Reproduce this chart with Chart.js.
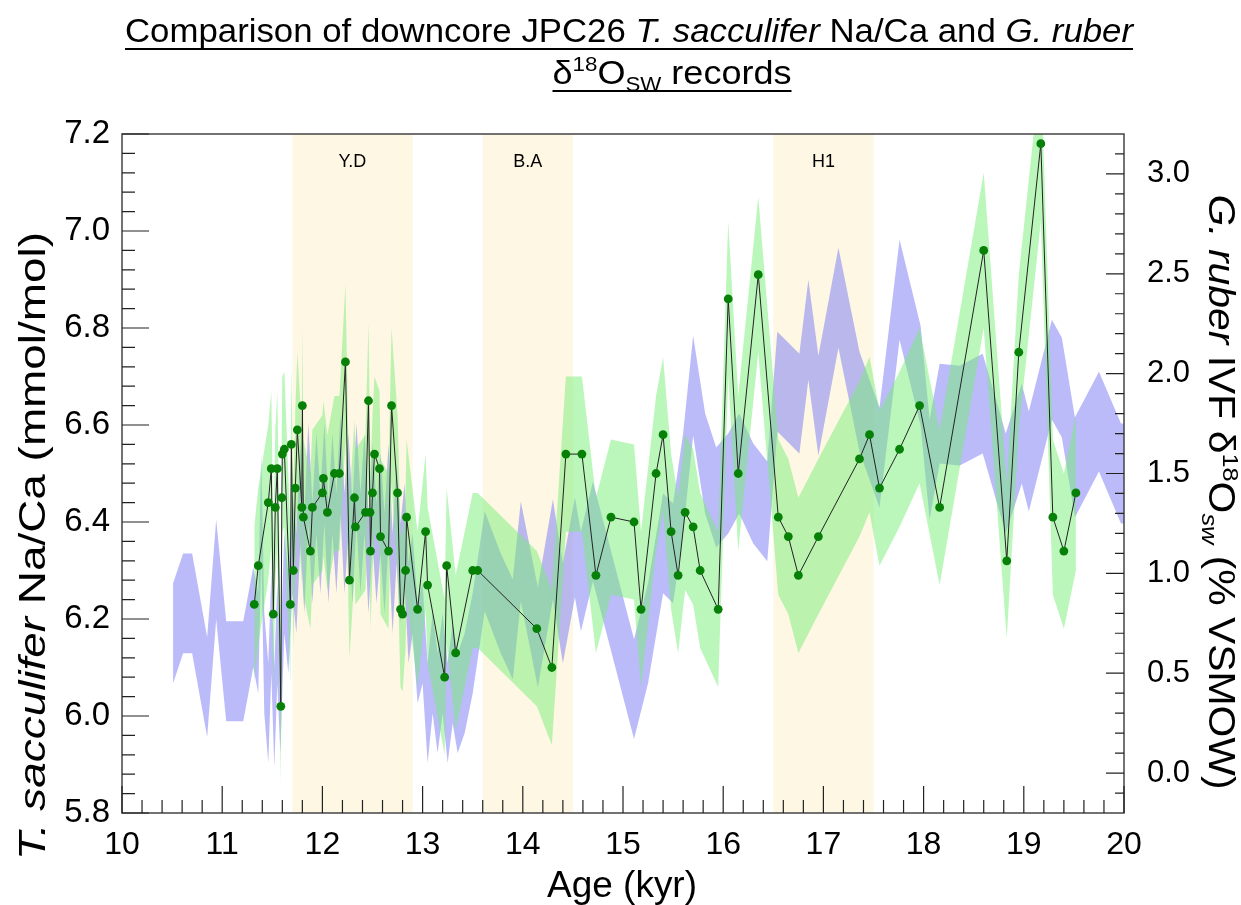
<!DOCTYPE html>
<html>
<head>
<meta charset="utf-8">
<script src="https://cdn.jsdelivr.net/npm/chart.js@4.4.1/dist/chart.umd.min.js"></script>
<style>
  html, body { margin: 0; padding: 0; background: #fff; }
  #wrap { width: 1241px; height: 905px; }
</style>
</head>
<body>
<div id="wrap"><canvas id="chart" width="1241" height="905"></canvas></div>
<script>
// T. sacculifer Na/Ca (left axis)
const naAge = [11.32, 11.36, 11.46, 11.49, 11.51, 11.53, 11.55, 11.585, 11.595, 11.60,
  11.62, 11.68, 11.69, 11.71, 11.73, 11.75, 11.795, 11.80, 11.81, 11.88,
  11.90, 12.00, 12.01, 12.05, 12.12, 12.17, 12.23, 12.27, 12.32, 12.33,
  12.43, 12.46, 12.475, 12.48, 12.50, 12.52, 12.57, 12.58, 12.66, 12.69,
  12.75, 12.78, 12.80, 12.83, 12.84, 12.95, 13.03, 13.05, 13.22, 13.24,
  13.33, 13.50, 13.55, 14.14, 14.29, 14.43, 14.59, 14.73, 14.88, 15.11,
  15.18, 15.33, 15.40, 15.48, 15.55, 15.62, 15.70, 15.77, 15.95, 16.05,
  16.15, 16.35, 16.55, 16.65, 16.75, 16.95, 17.36, 17.46, 17.56, 17.76,
  17.96, 18.16, 18.60, 18.83, 18.95, 19.17, 19.29, 19.40, 19.52];
const naVal = [6.23, 6.31, 6.44, 6.51, 6.21, 6.43, 6.51, 6.02, 6.45, 6.54,
  6.55, 6.23, 6.56, 6.30, 6.47, 6.59, 6.43, 6.64, 6.41, 6.34,
  6.43, 6.46, 6.49, 6.42, 6.50, 6.50, 6.73, 6.28, 6.45, 6.39,
  6.42, 6.65, 6.42, 6.34, 6.46, 6.54, 6.51, 6.37, 6.34, 6.64,
  6.46, 6.22, 6.21, 6.30, 6.41, 6.22, 6.38, 6.27, 6.08, 6.31,
  6.13, 6.30, 6.30, 6.18, 6.10, 6.54, 6.54, 6.29, 6.41, 6.40,
  6.22, 6.50, 6.58, 6.38, 6.29, 6.42, 6.39, 6.30, 6.22, 6.86,
  6.50, 6.91, 6.41, 6.37, 6.29, 6.37, 6.53, 6.58, 6.47, 6.55,
  6.64, 6.43, 6.96, 6.32, 6.75, 7.18, 6.41, 6.34, 6.46];
const naErr = 0.16;

// G. ruber IVF d18Osw (right axis), centre of the purple envelope
const d18Age = [10.51, 10.61, 10.70, 10.85, 10.94, 11.04, 11.21, 11.31,
  11.36, 11.39, 11.42, 11.46, 11.49, 11.52, 11.55, 11.58,
  11.62, 11.66, 11.70, 11.74, 11.78, 11.82, 11.86, 11.90,
  11.94, 11.98, 12.02, 12.06, 12.10, 12.14, 12.18, 12.22,
  12.26, 12.30, 12.34, 12.38, 12.42, 12.46, 12.50, 12.54,
  12.58, 12.62, 12.66, 12.70, 12.74, 12.78, 12.82, 12.86,
  12.90, 12.95, 13.00, 13.05, 13.10, 13.15, 13.20, 13.25,
  13.30, 13.35, 13.42, 13.50, 13.62, 13.78, 13.90, 13.98,
  14.15, 14.30, 14.40, 14.52, 14.58, 14.70, 15.11, 15.25,
  15.40, 15.50, 15.60, 15.70, 15.82, 15.93, 16.05, 16.16,
  16.30, 16.44, 16.54, 16.76, 16.85, 16.95, 17.15, 17.36,
  17.56, 17.76, 17.97, 18.06, 18.16, 18.36, 18.59, 18.82,
  18.98, 19.05, 19.28, 19.38, 19.51, 19.75, 19.97, 20.00];
const d18Val = [0.70, 0.85, 0.85, 0.43, 1.02, 0.51, 0.51, 0.78,
  0.65, 1.35, 0.55, 0.30, 0.75, 0.28, 0.70, 0.35,
  0.95, 0.75, 1.15, 0.95, 1.40, 1.05, 1.50, 1.10,
  1.45, 1.15, 1.50, 1.10, 1.45, 1.15, 1.55, 1.15,
  1.45, 1.10, 1.50, 1.15, 1.45, 1.05, 1.40, 1.10,
  1.35, 1.05, 1.40, 0.95, 1.30, 1.00, 1.20, 0.80,
  0.95, 0.60, 0.70, 0.30, 0.55, 0.35, 0.55, 0.30,
  0.50, 0.35, 0.45, 0.65, 1.06, 0.85, 0.72, 1.11,
  0.68, 1.12, 0.80, 1.13, 0.96, 1.21, 0.42, 0.70,
  1.15, 1.10, 1.45, 1.94, 1.55, 1.38, 1.45, 1.55,
  1.40, 1.31, 1.96, 1.85, 2.22, 1.84, 2.38, 1.86,
  1.58, 2.42, 1.99, 1.52, 1.80, 1.79, 1.85, 1.45,
  1.70, 1.56, 2.02, 1.93, 1.53, 1.76, 1.50, 1.50];
const d18Err = 0.25;

// climate events
const eventNames = ['Y.D', 'B.A', 'H1'];
const eventStart = [11.7, 13.6, 16.5];
const eventEnd = [12.9, 14.5, 17.5];

// axis ticks
const ageTicks = [10, 11, 12, 13, 14, 15, 16, 17, 18, 19, 20];
const naTicks = [5.8, 6.0, 6.2, 6.4, 6.6, 6.8, 7.0, 7.2];
const d18Ticks = [0.0, 0.5, 1.0, 1.5, 2.0, 2.5, 3.0];

const sansFont = '"Liberation Sans", Arial, sans-serif';
const narrowFont = '"Liberation Sans Narrow", "Liberation Sans", Arial, sans-serif';

function pts(xs, ys, off) {
  return xs.map((a, i) => ({ x: a, y: ys[i] + off }));
}

// draw a run of text pieces (italic / sup / sub), squeezed to a given width
function drawRich(ctx, segs, cx, base, size, family, targetW, underline) {
  let w = 0;
  const parts = segs.map(s => {
    const fs = (s.sup || s.sub) ? size * 0.62 : size;
    const font = (s.it ? 'italic ' : '') + fs + 'px ' + family;
    ctx.font = font;
    const mw = ctx.measureText(s.t).width;
    w += mw;
    return { t: s.t, font: font, mw: mw, dy: s.sup ? -size * 0.38 : (s.sub ? size * 0.2 : 0) };
  });
  const sx = targetW ? targetW / w : 1;
  ctx.save();
  ctx.translate(cx - w * sx / 2, base);
  ctx.scale(sx, 1);
  ctx.textAlign = 'left';
  ctx.textBaseline = 'alphabetic';
  ctx.fillStyle = '#000';
  let xx = 0;
  parts.forEach(p => {
    ctx.font = p.font;
    ctx.fillText(p.t, xx, p.dy);
    xx += p.mw;
  });
  if (underline) ctx.fillRect(0, 6, w, 2);
  ctx.restore();
}

const decor = {
  id: 'decor',
  beforeDatasetsDraw(chart) {
    const { ctx, chartArea: a, scales: { x } } = chart;
    ctx.save();
    eventNames.forEach((name, i) => {
      const x0 = x.getPixelForValue(eventStart[i]);
      const x1 = x.getPixelForValue(eventEnd[i]);
      ctx.fillStyle = '#fdf7e4';
      ctx.fillRect(x0, a.top, x1 - x0, a.bottom - a.top);
      ctx.fillStyle = '#000';
      ctx.font = '18px ' + sansFont;
      ctx.textAlign = 'center';
      ctx.textBaseline = 'middle';
      ctx.fillText(name, (x0 + x1) / 2, a.top + 28);
    });
    ctx.restore();
  },
  afterDatasetsDraw(chart) {
    const { ctx, chartArea: a, scales: { x, y, y2 } } = chart;
    ctx.save();
    ctx.strokeStyle = '#444';
    ctx.lineWidth = 1.5;
    ctx.strokeRect(a.left, a.top, a.right - a.left, a.bottom - a.top);
    ctx.lineWidth = 1.2;
    ctx.strokeStyle = '#222';
    ctx.beginPath();
    // bottom axis: minor every 0.2 kyr
    for (let i = 0; i <= 50; i++) {
      const px = x.getPixelForValue(10 + i * 0.2);
      const len = i % 5 === 0 ? 27 : 13;
      ctx.moveTo(px, a.bottom);
      ctx.lineTo(px, a.bottom - len);
    }
    // left axis: minor every 0.04
    for (let i = 0; i <= 35; i++) {
      const py = y.getPixelForValue(5.8 + i * 0.04);
      const len = i % 5 === 0 ? 27 : 13;
      ctx.moveTo(a.left, py);
      ctx.lineTo(a.left + len, py);
    }
    // right axis: minor every 0.1
    for (let i = -1; i <= 31; i++) {
      const py = y2.getPixelForValue(i * 0.1);
      const len = (i % 5 === 0) ? 18 : 9;
      ctx.moveTo(a.right, py);
      ctx.lineTo(a.right - len, py);
    }
    ctx.stroke();
    ctx.restore();
  },
  afterDraw(chart) {
    const { ctx } = chart;
    ctx.save();
    drawRich(ctx, [
      { t: 'Comparison of downcore JPC26 ' },
      { t: 'T. sacculifer', it: true },
      { t: ' Na/Ca and ' },
      { t: 'G. ruber', it: true }
    ], 629, 42, 33, narrowFont, 1008, true);
    drawRich(ctx, [
      { t: 'δ' }, { t: '18', sup: true }, { t: 'O' }, { t: 'SW', sub: true }, { t: ' records' }
    ], 672, 84, 33, narrowFont, 239, true);

    drawRich(ctx, [{ t: 'Age (kyr)' }], 622, 897, 36, narrowFont, 150, false);

    ctx.save();
    ctx.translate(45, 546);
    ctx.rotate(-Math.PI / 2);
    drawRich(ctx, [
      { t: 'T. sacculifer', it: true },
      { t: ' Na/Ca (mmol/mol)' }
    ], 0, 0, 36, narrowFont, 628, false);
    ctx.restore();

    ctx.save();
    ctx.translate(1209, 492);
    ctx.rotate(Math.PI / 2);
    drawRich(ctx, [
      { t: 'G. ruber', it: true },
      { t: ' IVF δ' },
      { t: '18', sup: true },
      { t: 'O' },
      { t: 'sw', sub: true, it: true },
      { t: ' (% VSMOW)' }
    ], 0, 0, 36, narrowFont, 595, false);
    ctx.restore();
    ctx.restore();
  }
};

const ctx = document.getElementById('chart').getContext('2d');
const chart = new Chart(ctx, {
  type: 'line',
  data: {
    datasets: [
      {
        label: 'Na/Ca',
        data: pts(naAge, naVal, 0),
        yAxisID: 'y',
        borderColor: '#222',
        borderWidth: 1,
        pointRadius: 4.4,
        pointBackgroundColor: '#078007',
        pointBorderWidth: 0,
        fill: false,
        tension: 0
      },
      {
        label: 'Na/Ca upper',
        data: pts(naAge, naVal, naErr),
        yAxisID: 'y',
        borderWidth: 0,
        pointRadius: 0,
        backgroundColor: 'rgba(120,238,120,0.5)',
        fill: '+1'
      },
      {
        label: 'Na/Ca lower',
        data: pts(naAge, naVal, -naErr),
        yAxisID: 'y',
        borderWidth: 0,
        pointRadius: 0,
        fill: false
      },
      {
        label: 'd18O upper',
        data: pts(d18Age, d18Val, d18Err),
        yAxisID: 'y2',
        borderWidth: 0,
        pointRadius: 0,
        backgroundColor: 'rgba(120,120,245,0.5)',
        fill: '+1'
      },
      {
        label: 'd18O lower',
        data: pts(d18Age, d18Val, -d18Err),
        yAxisID: 'y2',
        borderWidth: 0,
        pointRadius: 0,
        fill: false
      }
    ]
  },
  options: {
    responsive: false,
    animation: false,
    devicePixelRatio: 1,
    layout: { padding: { top: 134, left: 0, right: 0, bottom: 0 } },
    plugins: {
      legend: { display: false },
      title: { display: false },
      tooltip: { enabled: false }
    },
    scales: {
      x: {
        type: 'linear',
        min: 10,
        max: 20,
        afterFit: function(scale) { scale.height = 92; },
        afterBuildTicks: function(scale) { scale.ticks = ageTicks.map(v => ({ value: v })); },
        grid: { display: false },
        border: { display: false },
        ticks: {
          padding: 5,
          maxRotation: 0,
          autoSkip: false,
          color: '#000',
          font: { family: sansFont, size: 32 },
          callback: function(v) { return String(v); }
        }
      },
      y: {
        position: 'left',
        min: 5.8,
        max: 7.2,
        afterFit: function(scale) { scale.width = 122; },
        afterBuildTicks: function(scale) { scale.ticks = naTicks.map(v => ({ value: v })); },
        grid: { display: false },
        border: { display: false },
        ticks: {
          padding: 4,
          color: '#000',
          font: { family: sansFont, size: 33 },
          callback: function(v) { return Number(v).toFixed(1); }
        }
      },
      y2: {
        position: 'right',
        min: -0.2,
        max: 3.2,
        afterFit: function(scale) { scale.width = 117; },
        afterBuildTicks: function(scale) { scale.ticks = d18Ticks.map(v => ({ value: v })); },
        grid: { display: false },
        border: { display: false },
        ticks: {
          padding: 15,
          color: '#000',
          font: { family: sansFont, size: 31 },
          callback: function(v) { return Number(v).toFixed(1); }
        }
      }
    }
  },
  plugins: [decor]
});
</script>
</body>
</html>
